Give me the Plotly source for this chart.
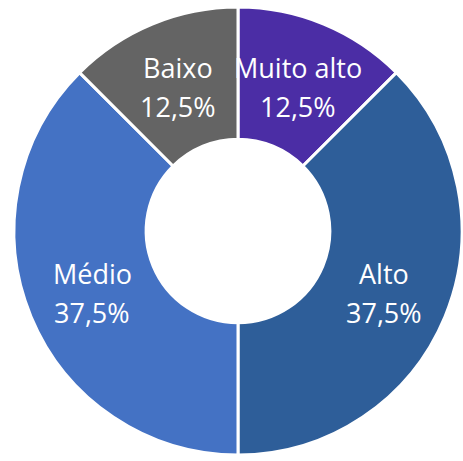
import math
import plotly.graph_objects as go

# Category shares (%), clockwise from 12 o'clock
categories = ["Muito alto", "Alto", "Médio", "Baixo"]
values = [12.5, 37.5, 37.5, 12.5]
colors = ["#4B2DA5", "#2E5E99", "#4472C4", "#646464"]

HOLE = 0.41
W, H = 463, 461
dom_x = [13 / W, 1.0]
dom_y = [6 / H, 454 / H]

fig = go.Figure(
    go.Pie(
        labels=categories,
        values=values,
        sort=False,
        direction="clockwise",
        rotation=0,
        hole=HOLE,
        marker=dict(colors=colors, line=dict(color="white", width=3)),
        textinfo="none",
        hoverinfo="label+percent",
        domain=dict(x=dom_x, y=dom_y),
        showlegend=False,
    )
)

# Place each slice's label and percentage at the middle of its ring segment
cx_px = (dom_x[0] + dom_x[1]) / 2 * W
cy_px = (dom_y[0] + dom_y[1]) / 2 * H
radius = min((dom_x[1] - dom_x[0]) * W, (dom_y[1] - dom_y[0]) * H) / 2
r_mid = radius * (1 + HOLE) / 2
total = sum(values)
font = dict(family="Open Sans, sans-serif", size=27, color="white")

start = 0.0
for name, v in zip(categories, values):
    mid = (start + v / 2) / total * 2 * math.pi
    start += v
    px = cx_px + r_mid * math.sin(mid)
    py = cy_px + r_mid * math.cos(mid)
    pct = f"{v / total * 100:.1f}%".replace(".", ",")
    for txt, shift in ((name, 18), (pct, -21)):
        fig.add_annotation(
            x=px / W, y=py / H, xref="paper", yref="paper",
            text=txt, showarrow=False, font=font,
            xanchor="center", yanchor="middle", yshift=shift,
        )

fig.update_layout(
    width=W, height=H,
    margin=dict(l=0, r=0, t=0, b=0),
    paper_bgcolor="white", plot_bgcolor="white",
)

fig.write_html("out.html")
